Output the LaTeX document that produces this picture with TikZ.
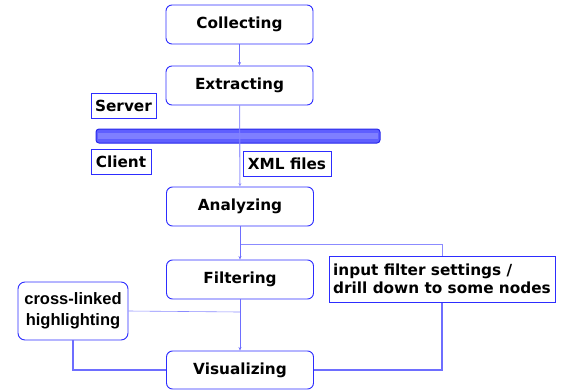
\documentclass[tikz,border=0pt]{standalone}
\usepackage{fontspec}
\setmainfont{DejaVu Sans}
\newfontfamily\arialfont{Liberation Sans}
\usetikzlibrary{arrows.meta}
\definecolor{boxblue}{RGB}{45,45,255}
\definecolor{lineblue}{RGB}{110,110,255}
\definecolor{barfill}{RGB}{95,95,255}
\definecolor{barline}{RGB}{40,40,235}
\tikzset{
  stage/.style={draw=boxblue, line width=0.95pt, rounded corners=6pt, fill=white,
    minimum width=147pt, minimum height=39pt, inner sep=0pt,
    font=\fontsize{15.3}{18}\selectfont\bfseries},
  tag/.style={draw=boxblue, line width=0.9pt, fill=white, inner sep=0pt,
    minimum height=25pt, font=\fontsize{15.3}{18}\selectfont\bfseries},
  flow/.style={draw=lineblue, line width=0.7pt, -{Stealth[length=3.5pt,width=3pt]}},
  thin/.style={draw=lineblue!80, line width=0.6pt},
  thick/.style={draw=lineblue, line width=1.4pt}
}
\begin{document}
\begin{tikzpicture}[x=1pt,y=-1pt]
\useasboundingbox (0,0) rectangle (564,389);
% bar
\draw[barline, line width=1pt, fill=barfill, rounded corners=3pt] (96,129) rectangle (380,143);
\fill[white, opacity=0.2] (98,132.5) rectangle (378,138.5);
% nodes
\node[stage] (col) at (239.5,24.5) {Collecting};
\node[stage] (ext) at (239.5,85.5) {Extracting};
\node[stage] (ana) at (240,206.5) {Analyzing};
\node[stage] (fil) at (240,279.5) {Filtering};
\node[stage, minimum height=38pt] (vis) at (240,370) {Visualizing};
\node[tag, minimum width=65pt] (srv) at (123.5,105.5) {Server};
\node[tag, minimum width=60pt] (cli) at (121,161.5) {Client};
\node[tag, minimum width=88pt] (xml) at (287,163.5) {XML files};
\coordinate (b1) at (240,244);
\coordinate (b2) at (240,312);
% connectors behind side boxes
\draw[thin] (b1) -| (442,256);
\draw[thick] (442,300) |- (vis.east);
\node[draw=boxblue, line width=0.9pt, fill=white, minimum width=226pt, minimum height=46pt,
  inner sep=0pt, align=left, font=\fontsize{15.3}{18.5}\selectfont\bfseries] (inp) at (442,279)
  {input filter settings /\\drill down to some nodes};
\node[draw=boxblue, line width=0.95pt, fill=white, rounded corners=7pt, minimum width=110pt,
  minimum height=58pt, inner sep=0pt, align=center,
  font=\arialfont\fontsize{16.5}{20.5}\selectfont\bfseries] (crs) at (73,311)
  {cross-linked\\highlighting};
\draw[thin] (crs.east) -- (b2);
\draw[thick] (crs.south) |- (vis.west);
% main flow
\draw[flow] (col) -- (ext);
\draw[flow, line width=1.1pt, draw=lineblue!85, opacity=0.8] (ext) -- (ana);
\draw[flow] (ana) -- (fil);
\draw[flow] (fil) -- (vis);
\end{tikzpicture}
\end{document}
